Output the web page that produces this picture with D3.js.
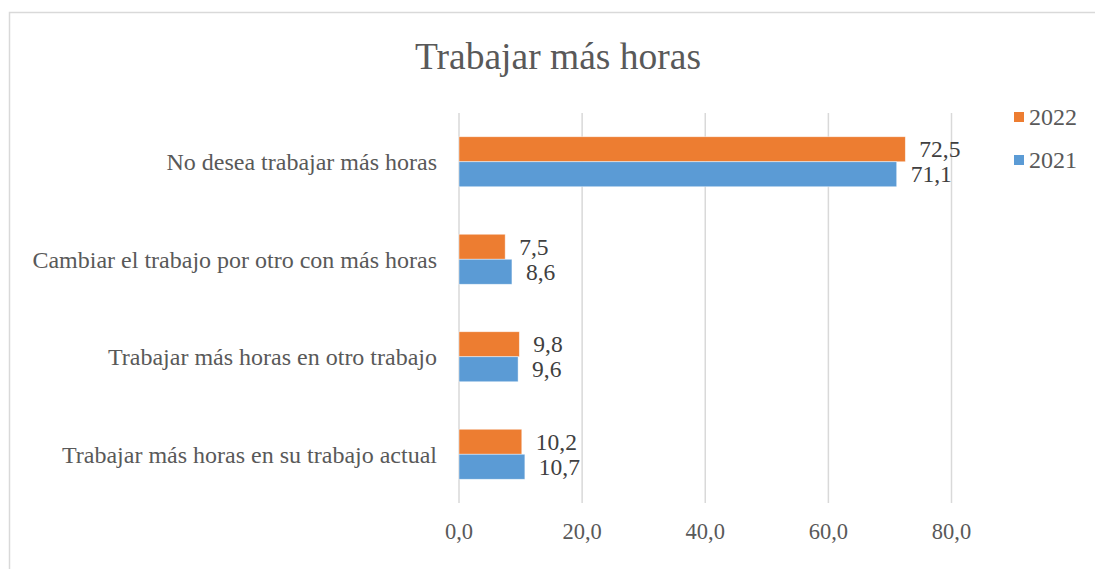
<!DOCTYPE html>
<html>
<head>
<meta charset="utf-8">
<script src="https://cdn.jsdelivr.net/npm/d3@7"></script>
<style>
  body { margin: 0; background: #fff; }
  svg { display: block; font-family: "Liberation Serif", "Times New Roman", serif; }
</style>
</head>
<body>
<svg></svg>
<script>
// Chart data
const categories = [
  "No desea trabajar más horas",
  "Cambiar el trabajo por otro con más horas",
  "Trabajar más horas en otro trabajo",
  "Trabajar más horas en su trabajo actual"
];
const seriesNames = ["2022", "2021"];
const values2022 = [72.5, 7.5, 9.8, 10.2];
const values2021 = [71.1, 8.6, 9.6, 10.7];
const xTicks = [0, 20, 40, 60, 80];

const colors = { "2022": "#ED7D31", "2021": "#5B9BD5" };

const width = 1095;
const height = 569;

const svg = d3.select("svg").attr("width", width).attr("height", height);

// chart frame
svg.append("rect")
  .attr("x", 9.5).attr("y", 12.5)
  .attr("width", width).attr("height", height)
  .attr("fill", "#fff")
  .attr("stroke", "#d9d9d9")
  .attr("stroke-width", 1.5);

// plot area
const plot = { left: 459, right: 951.5, top: 113, bottom: 503 };

const x = d3.scaleLinear().domain([0, 80]).range([plot.left, plot.right]);

const y = d3.scaleBand()
  .domain(categories)
  .range([plot.top, plot.bottom])
  .paddingInner(0.487)
  .paddingOuter(0.2435);

const ySub = d3.scaleBand().domain(seriesNames).range([0, y.bandwidth()]);

// title
svg.append("text")
  .attr("x", 558)
  .attr("y", 69)
  .attr("text-anchor", "middle")
  .attr("fill", "#595959")
  .attr("font-size", 37.5)
  .text("Trabajar más horas");

// gridlines
svg.append("g")
  .selectAll("line")
  .data(xTicks)
  .join("line")
  .attr("x1", (d) => x(d)).attr("x2", (d) => x(d))
  .attr("y1", plot.top).attr("y2", plot.bottom)
  .attr("stroke", "#d9d9d9")
  .attr("stroke-width", 1.5);

// x tick labels
svg.append("g")
  .selectAll("text")
  .data(xTicks)
  .join("text")
  .attr("x", (d) => x(d))
  .attr("y", 539)
  .attr("text-anchor", "middle")
  .attr("fill", "#595959")
  .attr("font-size", 22.5)
  .text((d) => d3.format(".1f")(d).replace(".", ","));

// category labels
svg.append("g")
  .selectAll("text")
  .data(categories)
  .join("text")
  .attr("x", 437)
  .attr("y", (d) => y(d) + y.bandwidth() / 2)
  .attr("dy", "0.35em")
  .attr("text-anchor", "end")
  .attr("fill", "#595959")
  .attr("font-size", 24)
  .text((d) => d);

// bars
const rows = [];
categories.forEach((c, i) => {
  rows.push({ cat: c, series: "2022", value: values2022[i] });
  rows.push({ cat: c, series: "2021", value: values2021[i] });
});

svg.append("g")
  .selectAll("rect")
  .data(rows)
  .join("rect")
  .attr("x", x(0))
  .attr("y", (d) => y(d.cat) + ySub(d.series))
  .attr("width", (d) => x(d.value) - x(0))
  .attr("height", ySub.bandwidth())
  .attr("fill", (d) => colors[d.series])
  .attr("stroke", "#fff")
  .attr("stroke-opacity", 0.6)
  .attr("stroke-width", 0.75);

// value labels
svg.append("g")
  .selectAll("text")
  .data(rows)
  .join("text")
  .attr("x", (d) => x(d.value) + 14)
  .attr("y", (d) => y(d.cat) + ySub(d.series) + ySub.bandwidth() / 2)
  .attr("dy", "0.35em")
  .attr("fill", "#404040")
  .attr("font-size", 23.5)
  .text((d) => d3.format(".1f")(d.value).replace(".", ","));

// legend
const legend = svg.append("g")
  .selectAll("g")
  .data(seriesNames)
  .join("g")
  .attr("transform", (d, i) => `translate(1014, ${117 + i * 43})`);

legend.append("rect")
  .attr("x", 0).attr("y", -5)
  .attr("width", 10).attr("height", 10)
  .attr("fill", (d) => colors[d]);

legend.append("text")
  .attr("x", 15)
  .attr("y", 0)
  .attr("dy", "0.35em")
  .attr("fill", "#595959")
  .attr("font-size", 24)
  .text((d) => d);
</script>
</body>
</html>
